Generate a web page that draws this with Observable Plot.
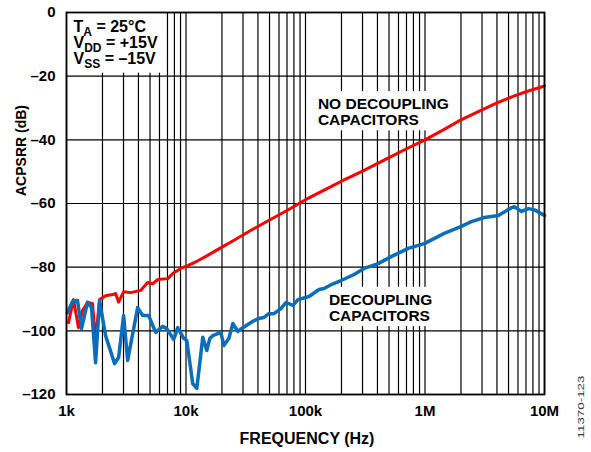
<!DOCTYPE html>
<html><head><meta charset="utf-8">
<script src="https://cdn.jsdelivr.net/npm/d3@7"></script>
<script src="https://cdn.jsdelivr.net/npm/@observablehq/plot@0.6"></script>
<style>
body{margin:0;background:#fff;}
#chart{width:591px;height:452px;}
</style></head><body><div id="chart"></div>
<script>
// ---- data ----
const redFreq = [1039,1145,1260,1362,1500,1652,1751,1891,2123,2431,2576,2730,3006,3440,4174,4777,5263,5797,7031,7742,9036,10344,12546,15218,17764,25000,35000,50000,70000,100000,150000,200000,300000,500000,700000,1000000,1500000,2000000,3000000,4000000,5600000,7000000,10000000];
const redDb   = [-97.4,-90.2,-99,-93.6,-91,-91.5,-103,-90.2,-89,-88.6,-88.3,-91,-87.7,-88,-87.3,-84.8,-85.2,-83.9,-83.6,-82,-80.4,-79.5,-78,-76.3,-74.8,-71.6,-68.4,-65.2,-62.2,-58.8,-55.4,-53,-49.8,-45.6,-42.8,-40,-36.4,-33.7,-30.6,-28.4,-26.2,-24.9,-23.1];

const blueFreq = [1019,1123,1236,1336,1500,1620,1751,1891,2123,2526,2730,3006,3248,3939,4339,4871,5577,6383,6896,7895,8527,9575,10145,11392,12309,13816,14928,15819,16764,19561,20730,22835,24660,27164,29916,36284,40738,44875,49412,54425,62317,68630,78560,86520,107000,129800,142900,163700,198500,255000,309500,405500,521200,723500,985600,1450000,2014000,2443000,3140000,4115000,5287000,5603000,6414000,7340000,8245000,10000000];
const blueDb   = [-94.3,-90.8,-90.5,-99.3,-91,-92.7,-110,-90.5,-101.5,-110.3,-108.4,-95.2,-109.3,-92.7,-95.2,-95.2,-100.5,-98.6,-99.3,-102.7,-99,-102.4,-103,-116.6,-118.1,-102,-106.2,-102.4,-101.5,-100.5,-104.6,-102.4,-97.7,-100.2,-99,-97,-96.1,-95.8,-94.6,-94.6,-93,-91.1,-92,-90.2,-89.2,-87,-86.7,-85.5,-84.2,-82.3,-80.4,-78.9,-76.7,-74.1,-72.6,-69.4,-67.2,-65.7,-64.4,-63.8,-61.3,-61,-62.5,-61.6,-62,-63.8];

const xTickValues = [1e3,1e4,1e5,1e6,1e7];
const xTickLabels = ["1k","10k","100k","1M","10M"];
const yTickValues = [0,-20,-40,-60,-80,-100,-120];
const gridDecades = [1e3,1e4,1e5,1e6];
const gridMultiples = [1,2,3,4,5,6,7,8,9];

const labelTexts = ["NO DECOUPLING\nCAPACITORS","DECOUPLING\nCAPACITORS"];
const labelFreqs = [127000,157000];
const labelDbs = [-26.7,-88.2];
const conditionLines = ["T_A = 25°C","V_DD = +15V","V_SS = –15V"];

// ---- build ----
const red = redFreq.map((f,i)=>({f, db:redDb[i]}));
const blue = blueFreq.map((f,i)=>({f, db:blueDb[i]}));
const gridFreqs = d3.cross(gridDecades, gridMultiples, (d,m)=>d*m).concat([1e7]);
const labels = labelTexts.map((t,i)=>({t, f:labelFreqs[i], db:labelDbs[i]}));
const FONT = "Arial, 'Liberation Sans', Helvetica, sans-serif";

const plot = Plot.plot({
  width:591, height:452,
  marginLeft:66, marginRight:47, marginTop:12, marginBottom:58,
  style:{fontFamily:FONT, fontSize:"15px", fontWeight:"bold", color:"#000", background:"#fff", overflow:"visible"},
  x:{type:"log", domain:[1e3,1e7], ticks:xTickValues, tickFormat:d=>xTickLabels[xTickValues.indexOf(d)], tickSize:0, tickPadding:11, label:null},
  y:{domain:[-120,0], ticks:yTickValues, tickFormat:d=>d<0?"–"+(-d):String(d), tickSize:0, tickPadding:11, label:null},
  marks:[
    Plot.ruleX(gridFreqs, {stroke:"#000", strokeWidth:1.2}),
    Plot.ruleY(yTickValues, {stroke:"#000", strokeWidth:1.2}),
    Plot.line(red, {x:"f", y:"db", stroke:"#ff0000", strokeWidth:3, strokeLinejoin:"round"}),
    Plot.line(blue, {x:"f", y:"db", stroke:"#0a6ebd", strokeWidth:3.5, strokeLinejoin:"round"}),
    Plot.text(labels, {x:"f", y:"db", text:"t", textAnchor:"start", lineAnchor:"top", lineHeight:1.05, fontSize:15.5, fontWeight:"bold", fill:"#000"}),
    Plot.text([conditionLines.join("\n")], {frameAnchor:"top-left", dx:7, dy:8.7, textAnchor:"start", lineAnchor:"top", lineHeight:0.98, fontSize:16, fontWeight:"bold", fill:"#000"}),
    Plot.text(["FREQUENCY (Hz)"], {frameAnchor:"bottom", dx:1.5, dy:44.4, lineAnchor:"middle", fontSize:16, fontWeight:"bold", fill:"#000"}),
    Plot.text(["ACPSRR (dB)"], {frameAnchor:"left", rotate:-90, dx:-45, dy:-7.5, lineAnchor:"middle", fontSize:14, fontWeight:"bold", fill:"#000"}),
    Plot.text(["11370-123"], {frameAnchor:"bottom-right", rotate:-90, dx:37, dy:44, textAnchor:"start", lineAnchor:"middle", fontSize:9, fontWeight:"normal", fill:"#333"}),
    Plot.frame({stroke:"#000", strokeWidth:1.8})
  ]
});
document.getElementById("chart").appendChild(plot);

// ---- post-process: subscripts, white label boxes (under the data lines), stretched figure id ----
const SVGNS = "http://www.w3.org/2000/svg";
const svgRect = plot.getBoundingClientRect();
const firstLine = plot.querySelector('g[aria-label="line"]');
function addBox(t, padL, padR, padT, padB){
  const bb = t.getBoundingClientRect();
  const r = document.createElementNS(SVGNS, "rect");
  r.setAttribute("x", bb.left - svgRect.left - padL);
  r.setAttribute("y", bb.top - svgRect.top - padT);
  r.setAttribute("width", bb.width + padL + padR);
  r.setAttribute("height", bb.height + padT + padB);
  r.setAttribute("fill", "#fff");
  r.setAttribute("stroke", "none");
  firstLine.parentNode.insertBefore(r, firstLine);
}
plot.querySelectorAll("text").forEach(t => {
  const s = t.textContent;
  if (s.includes("25°C")) {
    t.querySelectorAll("tspan").forEach(ts => {
      const line = ts.textContent;
      const m = line.match(/^(\w)_(\w+)(.*)$/);
      if (!m) return;
      ts.textContent = "";
      const a = document.createElementNS(SVGNS, "tspan"); a.textContent = m[1];
      const b = document.createElementNS(SVGNS, "tspan"); b.textContent = m[2];
      b.setAttribute("dy", "4"); b.setAttribute("font-size", "12");
      const c = document.createElementNS(SVGNS, "tspan"); c.textContent = m[3];
      c.setAttribute("dy", "-4");
      ts.appendChild(a); ts.appendChild(b); ts.appendChild(c);
    });
    addBox(t, 8, 6, 6, 2);
  } else if (s.includes("CAPACITORS")) {
    addBox(t, 10, 4, 4, 2);
  } else if (s === "11370-123") {
    t.setAttribute("textLength", "63");
    t.setAttribute("lengthAdjust", "spacingAndGlyphs");
  }
});
</script>
</body></html>
